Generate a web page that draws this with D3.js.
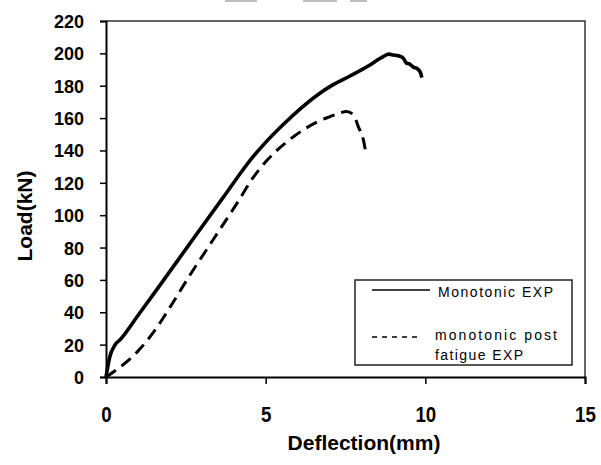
<!DOCTYPE html>
<html>
<head>
<meta charset="utf-8">
<script src="https://cdn.jsdelivr.net/npm/d3@7"></script>
<style>
  html, body { margin: 0; padding: 0; background: #fff; }
  svg { display: block; }
  .tick-y { font: bold 18px "Liberation Sans", Arial, sans-serif; }
  .tick-x { font: bold 22px "Liberation Sans", Arial, sans-serif; }
  .title { font: bold 21px "Liberation Sans", Arial, sans-serif; }
  .legend-text { font: 14px "Liberation Sans", Arial, sans-serif; }
</style>
</head>
<body>
<script>
// Load–deflection response of the monotonic tests
const monoDeflection = [0, 0.02, 0.12, 0.28, 0.44, 1.0, 1.59, 2.63, 3.67, 4.6, 5.0, 5.55, 6.1, 6.6, 7.1, 7.64, 8.2, 8.68, 8.85, 9.0, 9.15, 9.31, 9.41, 9.5, 9.62, 9.75, 9.85, 9.89];
const monoLoad       = [0, 2.3, 12.5, 19.8, 23, 38, 54, 82.6, 111, 136, 145, 156, 166, 174, 180.5, 186, 192, 198, 199.5, 199, 198.5, 197, 194, 193.5, 191.5, 190.5, 188, 185];

const postDeflection = [0, 0.5, 1.0, 1.5, 2.0, 2.63, 3.36, 4.09, 4.6, 5.0, 5.35, 5.87, 6.6, 7.0, 7.3, 7.53, 7.75, 7.9, 8.06, 8.14];
const postLoad       = [0, 7, 16, 28, 43, 63, 85, 107, 123, 133, 140, 148.5, 157.5, 160.8, 163, 164, 162, 154.7, 146.5, 138];

const xTicks = [0, 5, 10, 15];
const yTicks = [0, 20, 40, 60, 80, 100, 120, 140, 160, 180, 200, 220];
const legendLabels = [["Monotonic EXP"], ["monotonic post", "fatigue EXP"]];

const W = 601, H = 465;
const plot = { left: 106, right: 585, top: 21, bottom: 377 };

const svg = d3.select("body").append("svg").attr("width", W).attr("height", H);
svg.append("rect").attr("width", W).attr("height", H).attr("fill", "#fff");

// faint strip along the top edge
svg.append("g").attr("fill", "#bdbdbd")
  .selectAll("rect").data([[225, 32], [303, 34], [350, 17]]).join("rect")
  .attr("x", d => d[0]).attr("y", 0).attr("width", d => d[1]).attr("height", 2);

const x = d3.scaleLinear().domain([0, 15]).range([plot.left, plot.right]);
const y = d3.scaleLinear().domain([0, 220]).range([plot.bottom, plot.top]);

// frame: top and right edges
svg.append("path")
  .attr("d", `M${plot.left},${plot.top}H${plot.right}V${plot.bottom}`)
  .attr("fill", "none").attr("stroke", "#333").attr("stroke-width", 1.5);

// y axis
const yAxis = svg.append("g").attr("transform", `translate(${plot.left},0)`)
  .call(d3.axisLeft(y).tickValues(yTicks).tickSize(6).tickPadding(16));
yAxis.select(".domain").attr("stroke", "#000").attr("stroke-width", 2);
yAxis.selectAll(".tick line").attr("stroke", "#000").attr("stroke-width", 1.5);
yAxis.selectAll(".tick text").attr("class", "tick-y").attr("fill", "#000").attr("dy", "0.36em");

// x axis
const xAxis = svg.append("g").attr("transform", `translate(0,${plot.bottom})`)
  .call(d3.axisBottom(x).tickValues(xTicks).tickSize(7).tickPadding(22));
xAxis.select(".domain").attr("stroke", "#000").attr("stroke-width", 2);
xAxis.selectAll(".tick line").attr("stroke", "#000").attr("stroke-width", 1.5);
xAxis.selectAll(".tick text").attr("class", "tick-x").attr("fill", "#000")
  .attr("dy", "0.71em").attr("y", 29).attr("transform", "scale(0.85,1)");

// axis titles
svg.append("text").attr("class", "title")
  .attr("x", 364).attr("y", 450).attr("text-anchor", "middle").text("Deflection(mm)");
svg.append("text").attr("class", "title")
  .attr("transform", "translate(32,216) rotate(-90)")
  .attr("text-anchor", "middle").text("Load(kN)");

// curves
const line = d3.line().x(d => x(d[0])).y(d => y(d[1])).curve(d3.curveMonotoneX);
const mono = d3.zip(monoDeflection, monoLoad);
const post = d3.zip(postDeflection, postLoad);

svg.append("path").datum(post).attr("d", line)
  .attr("fill", "none").attr("stroke", "#000").attr("stroke-width", 3)
  .attr("stroke-dasharray", "12,7");
svg.append("path").datum(mono).attr("d", line)
  .attr("fill", "none").attr("stroke", "#000").attr("stroke-width", 3.6)
  .attr("stroke-linejoin", "round");

// legend
const lg = svg.append("g");
lg.append("rect").attr("x", 355).attr("y", 280).attr("width", 217).attr("height", 85)
  .attr("fill", "#fff").attr("stroke", "#222").attr("stroke-width", 1.5);
lg.append("line").attr("x1", 372).attr("x2", 430).attr("y1", 290).attr("y2", 290)
  .attr("stroke", "#000").attr("stroke-width", 1.5);
lg.append("line").attr("x1", 372).attr("x2", 421).attr("y1", 337).attr("y2", 337)
  .attr("stroke", "#000").attr("stroke-width", 1.5).attr("stroke-dasharray", "5,5");
lg.append("text").attr("class", "legend-text").attr("x", 438).attr("y", 297)
  .attr("textLength", 115).attr("lengthAdjust", "spacing").text(legendLabels[0][0]);
lg.append("text").attr("class", "legend-text").attr("x", 435).attr("y", 340)
  .attr("textLength", 122).attr("lengthAdjust", "spacing").text(legendLabels[1][0]);
lg.append("text").attr("class", "legend-text").attr("x", 435).attr("y", 360)
  .attr("textLength", 88).attr("lengthAdjust", "spacing").text(legendLabels[1][1]);
</script>
</body>
</html>
